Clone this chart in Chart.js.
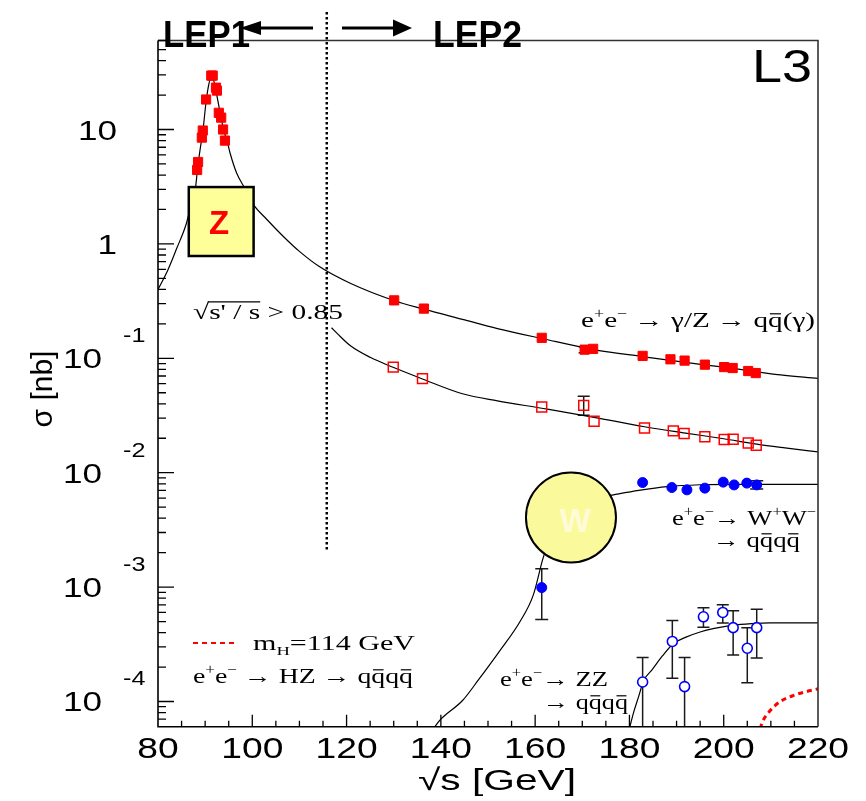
<!DOCTYPE html>
<html>
<head>
<meta charset="utf-8">
<script src="https://cdn.jsdelivr.net/npm/chart.js@4.4.0/dist/chart.umd.min.js"></script>
<style>
  html, body { margin: 0; padding: 0; background: #ffffff; }
  canvas { display: block; }
</style>
</head>
<body>
<canvas id="c" width="866" height="801"></canvas>
<script>
// ---------------- data ----------------
// Z line-shape + e+e- -> qq(gamma) theory curve
const zCurveX = [80, 82, 84, 86, 87, 88, 88.4, 89, 89.5, 90.2, 90.8, 91.4, 91.9, 92.4, 93.2, 94.0, 94.6, 95.3, 96.7, 98.5, 100.1, 103, 106.7, 110, 114.3, 120.9, 130, 136.4, 144.6, 152, 161.4, 173, 182.8, 191.9, 200, 210.9, 220];
const zCurveY = [0.40, 0.58, 0.92, 1.5, 2.2, 3.2, 4.6, 7.0, 9.5, 17.5, 25, 29.5, 26, 20.7, 13.9, 9.6, 8.1, 6.2, 4.14, 3.02, 2.25, 1.65, 1.15, 0.86, 0.63, 0.45, 0.32, 0.269, 0.219, 0.182, 0.149, 0.118, 0.1035, 0.092, 0.0836, 0.0725, 0.0667];
// sqrt(s'/s) > 0.85 theory curve
const highCutX = [116.8, 118, 120.9, 125, 130, 136.1, 144.6, 152, 161.4, 172.5, 183.2, 191.9, 200, 207, 213, 220];
const highCutY = [0.185, 0.165, 0.128, 0.102, 0.083, 0.066, 0.049, 0.0425, 0.0366, 0.0305, 0.0252, 0.0222, 0.0198, 0.0178, 0.0165, 0.0152];
// WW -> qqqq theory curve
const wwCurveX = [138, 140, 144.6, 148, 152.3, 156.8, 159.6, 161.7, 164, 168, 172, 176.6, 182, 188, 195, 202, 220];
const wwCurveY = [5.5e-5, 7.0e-5, 1.02e-4, 1.55e-4, 2.7e-4, 5.0e-4, 8.5e-4, 1.8e-3, 3.3e-3, 5.0e-3, 5.9e-3, 6.4e-3, 7.0e-3, 7.55e-3, 7.85e-3, 7.92e-3, 7.92e-3];
// ZZ -> qqqq theory curve
const zzCurveX = [180.1, 180.8, 182, 183, 184.7, 187, 189.3, 192, 195, 198, 202, 206, 209.8, 220];
const zzCurveY = [6.0e-5, 7.8e-5, 1.12e-4, 1.52e-4, 1.87e-4, 2.5e-4, 3.2e-4, 3.65e-4, 4.05e-4, 4.35e-4, 4.65e-4, 4.8e-4, 4.87e-4, 4.87e-4];
// HZ -> qqqq, mH = 114 GeV
const hzCurveX = [207.7, 208.5, 209.5, 210.5, 212, 214.8, 217.5, 220];
const hzCurveY = [5.8e-5, 7.0e-5, 8.0e-5, 8.9e-5, 1.0e-4, 1.13e-4, 1.22e-4, 1.29e-4];

// LEP1 Z-peak measurements
const zPeakX = [88.3, 88.5, 89.3, 89.5, 90.2, 91.3, 91.6, 92.3, 92.5, 92.9, 93.4, 93.8, 94.2];
const zPeakY = [4.43, 5.2, 8.5, 9.8, 18.3, 29.6, 29.6, 23.2, 21.9, 14.0, 12.7, 10.0, 8.0];
// LEP2 e+e- -> qq(gamma), inclusive (filled squares)
const qqAllX = [130.1, 136.4, 161.4, 170.5, 172.3, 182.8, 188.7, 191.7, 196.0, 200.1, 201.9, 205.2, 206.8];
const qqAllY = [0.321, 0.272, 0.151, 0.119, 0.121, 0.105, 0.098, 0.0955, 0.088, 0.0838, 0.0822, 0.0774, 0.0743];
const qqAllErrLo = [null, null, null, 0.112, null, null, null, null, null, null, null, null, null];
const qqAllErrHi = [null, null, null, 0.126, null, null, null, null, null, null, null, null, null];
// LEP2 e+e- -> qq(gamma), sqrt(s'/s) > 0.85 (open squares)
const qqHighX = [129.9, 136.1, 161.4, 170.3, 172.5, 183.2, 189.3, 191.6, 196.0, 200.1, 202.0, 205.2, 206.9];
const qqHighY = [0.0838, 0.0664, 0.0375, 0.0388, 0.0282, 0.0246, 0.0232, 0.022, 0.0206, 0.0195, 0.0196, 0.0182, 0.0174];
const qqHighErrLo = [null, null, null, 0.0318, null, null, null, null, null, null, null, null, null];
const qqHighErrHi = [null, null, null, 0.0465, null, null, null, null, null, null, null, null, null];
// WW -> qqqq (filled circles)
const wwX = [161.4, 182.8, 189.0, 192.2, 196.0, 199.9, 202.2, 204.9, 207.0];
const wwY = [0.00099, 0.0082, 0.00742, 0.00708, 0.00733, 0.00827, 0.00782, 0.00811, 0.00782];
const wwErrLo = [0.00052, null, null, null, null, null, null, null, 0.0072];
const wwErrHi = [0.00145, null, null, null, null, null, null, null, 0.0085];
// ZZ -> qqqq (open circles)
const zzX = [182.8, 189.1, 191.7, 195.7, 199.8, 202.0, 205.0, 207.0];
const zzY = [1.48e-4, 3.35e-4, 1.35e-4, 5.5e-4, 6.0e-4, 4.42e-4, 2.92e-4, 4.42e-4];
const zzErrLo = [3e-5, 1.6e-4, 3e-5, 4.45e-4, 4.85e-4, 2.55e-4, 1.46e-4, 2.4e-4];
const zzErrHi = [2.42e-4, 5.1e-4, 2.42e-4, 6.6e-4, 7.0e-4, 6.2e-4, 4.42e-4, 6.4e-4];

// axes
const xTickValues = [80, 100, 120, 140, 160, 180, 200, 220];
const xTickLabels = ['80', '100', '120', '140', '160', '180', '200', '220'];
const yTickValues = [10, 1, 0.1, 0.01, 0.001, 0.0001];
const yTickBase = ['10', '1', '10', '10', '10', '10'];
const yTickExp = ['', '', '-1', '-2', '-3', '-4'];
const xMin = 80, xMax = 220, yMin = 6.02e-5, yMax = 60;
const lepDividerX = 115.8, lepDividerBottom = 2.1e-3;

// ---------------- helpers ----------------
const pts = (xs, ys) => xs.map((x, i) => ({ x: x, y: ys[i] }));
const SERIF = '"Liberation Serif", "Times New Roman", serif';
const SANS = '"Liberation Sans", Arial, sans-serif';

function drawRich(ctx, segs, x, y, size, width, family, color, weight) {
  const small = 0.62;
  ctx.save();
  let total = 0;
  const ms = segs.map(s => {
    const fs = (s.sup || s.sub) ? size * small : size;
    ctx.font = (weight || '') + ' ' + fs + 'px ' + family;
    const w = ctx.measureText(s.t).width;
    total += w;
    return { fs: fs, w: w };
  });
  const k = width ? width / total : 1;
  ctx.translate(x, y);
  ctx.scale(k, 1);
  ctx.fillStyle = color;
  ctx.strokeStyle = color;
  ctx.textAlign = 'left';
  ctx.textBaseline = 'alphabetic';
  let cx = 0;
  segs.forEach((s, i) => {
    const m = ms[i];
    ctx.font = (weight || '') + ' ' + m.fs + 'px ' + family;
    const dy = s.sup ? -size * 0.42 : (s.sub ? size * 0.25 : 0);
    ctx.fillText(s.t, cx, dy);
    if (s.bar) {
      ctx.lineWidth = 1.2;
      ctx.beginPath();
      ctx.moveTo(cx + m.w * 0.12, -size * 0.6);
      ctx.lineTo(cx + m.w * 0.88, -size * 0.6);
      ctx.stroke();
    }
    if (s.over) {
      ctx.lineWidth = 1.2;
      ctx.beginPath();
      ctx.moveTo(cx - 1, -size * 0.78);
      ctx.lineTo(cx + m.w, -size * 0.78);
      ctx.stroke();
    }
    cx += m.w;
  });
  ctx.restore();
}

function stretchText(ctx, text, x, y, align, sx) {
  ctx.save();
  ctx.translate(x, y);
  ctx.scale(sx, 1);
  ctx.textAlign = align;
  ctx.textBaseline = 'alphabetic';
  ctx.fillText(text, 0, 0);
  ctx.restore();
}

const EE = [{ t: 'e' }, { t: '+', sup: 1 }, { t: 'e' }, { t: '\u2212', sup: 1 }];
const QQQQ = [{ t: 'q' }, { t: 'q', bar: 1 }, { t: 'q' }, { t: 'q', bar: 1 }];

function errorBars(chart, xs, ys, lo, hi, cap) {
  const ctx = chart.ctx, sx = chart.scales.x, sy = chart.scales.y;
  ctx.strokeStyle = '#1a1a1a';
  ctx.lineWidth = 1.5;
  xs.forEach((x, i) => {
    if (lo[i] == null || hi[i] == null) return;
    const px = sx.getPixelForValue(x);
    const p0 = sy.getPixelForValue(lo[i]);
    const p1 = sy.getPixelForValue(hi[i]);
    ctx.beginPath();
    ctx.moveTo(px, p0); ctx.lineTo(px, p1);
    ctx.moveTo(px - cap / 2, p0); ctx.lineTo(px + cap / 2, p0);
    ctx.moveTo(px - cap / 2, p1); ctx.lineTo(px + cap / 2, p1);
    ctx.stroke();
  });
}

const decor = {
  id: 'decor',
  beforeDatasetsDraw(chart) {
    const ctx = chart.ctx, a = chart.chartArea;
    ctx.save();
    ctx.beginPath();
    ctx.rect(a.left, a.top, a.right - a.left, a.bottom - a.top);
    ctx.clip();
    errorBars(chart, qqAllX, qqAllY, qqAllErrLo, qqAllErrHi, 12);
    errorBars(chart, qqHighX, qqHighY, qqHighErrLo, qqHighErrHi, 12);
    errorBars(chart, wwX, wwY, wwErrLo, wwErrHi, 13);
    errorBars(chart, zzX, zzY, zzErrLo, zzErrHi, 12);
    ctx.restore();
  },
  afterDatasetsDraw(chart) {
    const ctx = chart.ctx, a = chart.chartArea;
    const sx = chart.scales.x, sy = chart.scales.y;
    ctx.save();

    // Z box
    const bx0 = sx.getPixelForValue(86.53), bx1 = sx.getPixelForValue(100.28);
    const by0 = sy.getPixelForValue(3.14), by1 = sy.getPixelForValue(0.784);
    ctx.fillStyle = '#ffff99';
    ctx.fillRect(bx0, by0, bx1 - bx0, by1 - by0);
    ctx.strokeStyle = '#000'; ctx.lineWidth = 2.5;
    ctx.strokeRect(bx0, by0, bx1 - bx0, by1 - by0);
    ctx.fillStyle = '#ff0000';
    ctx.font = 'bold 33px ' + SANS;
    ctx.textAlign = 'center'; ctx.textBaseline = 'alphabetic';
    ctx.fillText('Z', (bx0 + bx1) / 2 - 2, (by0 + by1) / 2 + 12);

    // W circle
    const wcx = sx.getPixelForValue(167.6), wcy = sy.getPixelForValue(4.06e-3);
    ctx.beginPath();
    ctx.arc(wcx, wcy, 45, 0, Math.PI * 2);
    ctx.fillStyle = '#fafa9c'; ctx.fill();
    ctx.strokeStyle = '#000'; ctx.lineWidth = 2; ctx.stroke();
    ctx.fillStyle = '#fffbd8';
    ctx.font = 'bold 33px ' + SANS;
    ctx.textAlign = 'center';
    ctx.fillText('W', wcx + 4, wcy + 15);

    // annotations (serif)
    drawRich(ctx, [{ t: '\u221A' }, { t: "s' / s", over: 1 }, { t: ' > 0.85' }], 193, 319, 22, 150, SERIF, '#000');
    drawRich(ctx, EE.concat([{ t: ' \u2192 \u03B3/Z \u2192 q' }, { t: 'q', bar: 1 }, { t: '(\u03B3)' }]), 581, 327, 22, 234, SERIF, '#000');
    drawRich(ctx, EE.concat([{ t: '\u2192 W' }, { t: '+', sup: 1 }, { t: 'W' }, { t: '\u2212', sup: 1 }]), 672, 525, 22, 144, SERIF, '#000');
    drawRich(ctx, [{ t: '\u2192 ' }].concat(QQQQ), 713, 547, 22, 87, SERIF, '#000');
    drawRich(ctx, EE.concat([{ t: '\u2192 ZZ' }]), 500, 686, 22, 108, SERIF, '#000');
    drawRich(ctx, [{ t: '\u2192 ' }].concat(QQQQ), 543, 709, 22, 85, SERIF, '#000');
    drawRich(ctx, [{ t: 'm' }, { t: 'H', sub: 1 }, { t: '=114 GeV' }], 253, 650, 21, 162, SERIF, '#000');
    drawRich(ctx, EE.concat([{ t: ' \u2192 HZ \u2192 ' }]).concat(QQQQ), 193, 683, 22, 220, SERIF, '#000');
    // legend dashes for Higgs
    ctx.strokeStyle = '#ff0000'; ctx.lineWidth = 1.8; ctx.setLineDash([5, 4]);
    ctx.beginPath(); ctx.moveTo(193, 643); ctx.lineTo(238, 643); ctx.stroke();
    ctx.setLineDash([]);

    // frame
    ctx.strokeStyle = '#000'; ctx.lineWidth = 1.6;
    ctx.beginPath();
    ctx.moveTo(a.left, a.top); ctx.lineTo(a.left, a.bottom); ctx.lineTo(a.right, a.bottom);
    ctx.stroke();
    ctx.strokeStyle = '#333'; ctx.lineWidth = 1.6;
    ctx.beginPath();
    ctx.moveTo(a.left, a.top); ctx.lineTo(a.right, a.top); ctx.lineTo(a.right, a.bottom);
    ctx.stroke();

    // x ticks (inside)
    ctx.strokeStyle = '#000'; ctx.lineWidth = 1.3;
    ctx.beginPath();
    for (let v = xMin + 5; v < xMax; v += 5) {
      const px = sx.getPixelForValue(v);
      const len = (v % 20 === 0) ? 12 : 6;
      ctx.moveTo(px, a.bottom); ctx.lineTo(px, a.bottom - len);
    }
    ctx.stroke();
    // y ticks (inside)
    ctx.beginPath();
    for (let e = -5; e <= 1; e++) {
      for (let m = 1; m <= 9; m++) {
        const v = m * Math.pow(10, e);
        if (v < yMin || v > yMax) continue;
        const py = sy.getPixelForValue(v);
        const len = (m === 1) ? 16 : 8;
        ctx.moveTo(a.left, py); ctx.lineTo(a.left + len, py);
      }
    }
    ctx.stroke();

    // x tick labels
    ctx.fillStyle = '#000';
    ctx.font = '30px ' + SANS;
    xTickValues.forEach((v, i) => {
      stretchText(ctx, xTickLabels[i], sx.getPixelForValue(v), a.bottom + 31.5, 'center', 1.24);
    });
    // y tick labels
    yTickValues.forEach((v, i) => {
      const py = sy.getPixelForValue(v);
      ctx.font = '27px ' + SANS;
      if (yTickExp[i]) {
        stretchText(ctx, yTickBase[i], 102, py + 10, 'right', 1.3);
        ctx.font = '21px ' + SANS;
        stretchText(ctx, yTickExp[i], 123, py - 16, 'left', 1.2);
      } else {
        stretchText(ctx, yTickBase[i], 117, py + 10, 'right', 1.3);
      }
    });

    // axis titles
    ctx.save();
    ctx.translate(52, 389);
    ctx.rotate(-Math.PI / 2);
    ctx.font = '30px ' + SANS;
    ctx.textAlign = 'center';
    ctx.fillText('\u03C3 [nb]', 0, 0);
    ctx.restore();
    drawRich(ctx, [{ t: '\u221As [GeV]' }], 418, 790, 30, 158, SANS, '#000');

    // LEP1 / LEP2 labels and arrows
    ctx.fillStyle = '#000';
    drawRich(ctx, [{ t: 'LEP1' }], 163, 47, 36, 87, SANS, '#000', 'bold');
    drawRich(ctx, [{ t: 'LEP2' }], 433, 47, 36, 89, SANS, '#000', 'bold');
    ctx.strokeStyle = '#000'; ctx.lineWidth = 3;
    ctx.beginPath(); ctx.moveTo(313, 28); ctx.lineTo(255, 28); ctx.stroke();
    ctx.beginPath(); ctx.moveTo(240, 28); ctx.lineTo(261, 21); ctx.lineTo(261, 35); ctx.closePath(); ctx.fill();
    ctx.beginPath(); ctx.moveTo(342, 28); ctx.lineTo(398, 28); ctx.stroke();
    ctx.beginPath(); ctx.moveTo(412, 28); ctx.lineTo(393, 19.5); ctx.lineTo(393, 36.5); ctx.closePath(); ctx.fill();

    // L3
    drawRich(ctx, [{ t: 'L3' }], 752, 82, 46, 60, SANS, '#000');

    // LEP1 / LEP2 divider (dotted)
    const dx = sx.getPixelForValue(lepDividerX);
    ctx.strokeStyle = '#000'; ctx.lineWidth = 2.5; ctx.setLineDash([2.5, 2.5]);
    ctx.beginPath(); ctx.moveTo(dx, 12); ctx.lineTo(dx, sy.getPixelForValue(lepDividerBottom)); ctx.stroke();
    ctx.setLineDash([]);

    ctx.restore();
  }
};

const lineStyle = { showLine: true, pointRadius: 0, borderColor: '#000', borderWidth: 1.2, fill: false, cubicInterpolationMode: 'monotone' };

new Chart(document.getElementById('c'), {
  type: 'scatter',
  data: {
    datasets: [
      Object.assign({ label: 'Z / qq theory', data: pts(zCurveX, zCurveY), order: 10 }, lineStyle),
      Object.assign({ label: "qq theory s'/s>0.85", data: pts(highCutX, highCutY), order: 10 }, lineStyle),
      Object.assign({ label: 'WW theory', data: pts(wwCurveX, wwCurveY), order: 10 }, lineStyle),
      Object.assign({ label: 'ZZ theory', data: pts(zzCurveX, zzCurveY), order: 10 }, lineStyle),
      { label: 'HZ mH=114 GeV', data: pts(hzCurveX, hzCurveY), showLine: true, pointRadius: 0, borderColor: '#ff0000', borderWidth: 3, borderDash: [5, 4], cubicInterpolationMode: 'monotone', order: 9 },
      { label: 'LEP1 Z peak', data: pts(zPeakX, zPeakY), pointStyle: 'rect', pointRadius: 6.5, backgroundColor: '#ff0000', borderColor: '#ff0000', borderWidth: 1, order: 1 },
      { label: 'qq inclusive', data: pts(qqAllX, qqAllY), pointStyle: 'rect', pointRadius: 6.5, backgroundColor: '#ff0000', borderColor: '#ff0000', borderWidth: 1, order: 1 },
      { label: "qq s'/s>0.85", data: pts(qqHighX, qqHighY), pointStyle: 'rect', pointRadius: 7, backgroundColor: 'rgba(255,255,255,0)', borderColor: '#ff0000', borderWidth: 1.5, order: 1 },
      { label: 'WW -> qqqq', data: pts(wwX, wwY), pointStyle: 'circle', pointRadius: 5, backgroundColor: '#0000ff', borderColor: '#0000ff', borderWidth: 1, order: 1 },
      { label: 'ZZ -> qqqq', data: pts(zzX, zzY), pointStyle: 'circle', pointRadius: 5, backgroundColor: '#ffffff', borderColor: '#0000ff', borderWidth: 1.6, order: 1 }
    ]
  },
  options: {
    responsive: false,
    devicePixelRatio: 1,
    animation: false,
    layout: { padding: { left: 158, right: 48, top: 40.5, bottom: 74.3 } },
    plugins: { legend: { display: false }, tooltip: { enabled: false } },
    scales: {
      x: { type: 'linear', min: xMin, max: xMax, display: false },
      y: { type: 'logarithmic', min: yMin, max: yMax, display: false }
    }
  },
  plugins: [decor]
});
</script>
</body>
</html>
